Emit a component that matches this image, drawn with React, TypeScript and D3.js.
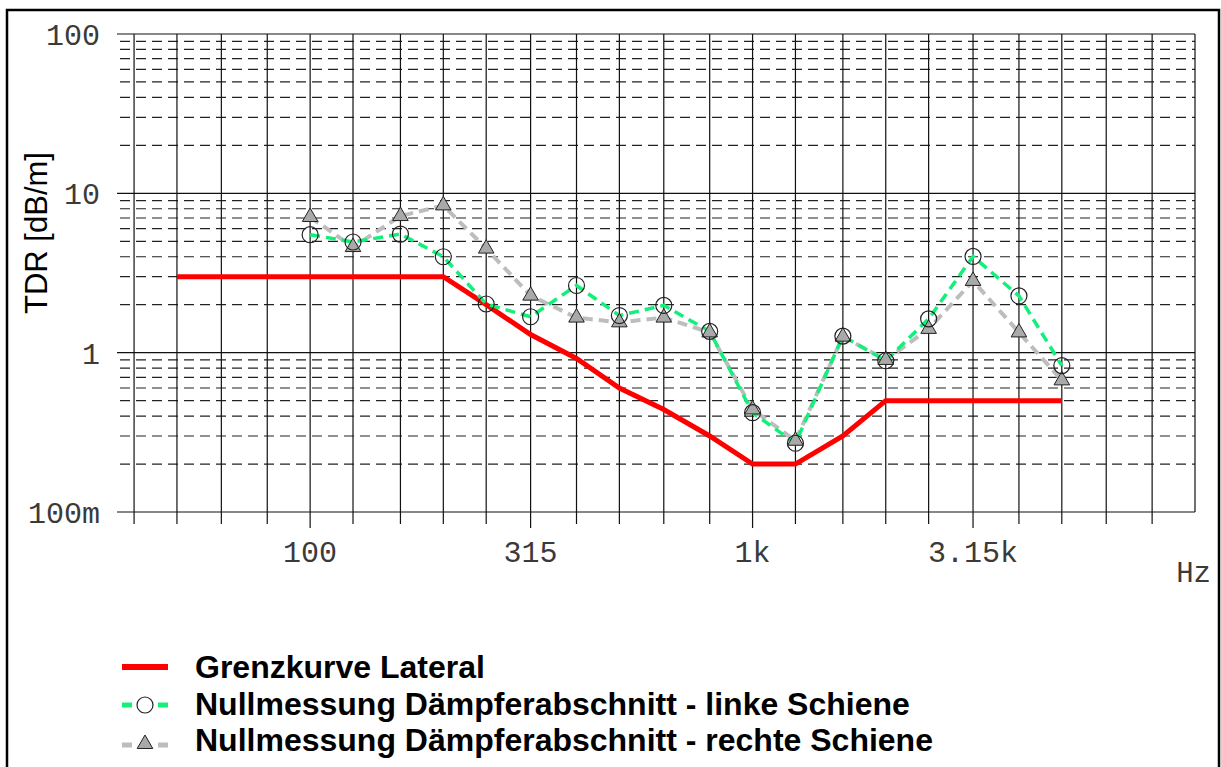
import React from 'react';
import * as d3 from 'd3';

// third-octave grid lines (Hz)
const gridFreqs = [40, 50, 63, 80, 100, 125, 160, 200, 250, 315, 400, 500, 630, 800,
    1000, 1250, 1600, 2000, 2500, 3150, 4000, 5000, 6300, 8000];
const xLabelFreqs = [100, 315, 1000, 3150];
const xLabelTexts = ['100', '315', '1k', '3.15k'];

const yMajor = [0.1, 1, 10, 100];
const yLabelTexts = ['100m', '1', '10', '100'];

// Grenzkurve Lateral
const limitFreqs = [50, 63, 80, 100, 125, 160, 200, 250, 315, 400, 500, 630, 800,
    1000, 1250, 1600, 2000, 2500, 3150, 4000, 5000];
const limitValues = [3, 3, 3, 3, 3, 3, 3, 2, 1.3, 0.92, 0.6, 0.44, 0.3,
    0.2, 0.2, 0.3, 0.5, 0.5, 0.5, 0.5, 0.5];

// Nullmessung
const measFreqs = [100, 125, 160, 200, 250, 315, 400, 500, 630, 800,
    1000, 1250, 1600, 2000, 2500, 3150, 4000, 5000];
const leftValues = [5.5, 4.95, 5.55, 4.0, 2.02, 1.68, 2.64, 1.71, 1.98, 1.36,
    0.42, 0.27, 1.27, 0.89, 1.63, 4.02, 2.27, 0.83];
const rightValues = [7.1, 4.6, 7.2, 8.4, 4.5, 2.28, 1.66, 1.55, 1.66, 1.34,
    0.44, 0.28, 1.26, 0.9, 1.41, 2.82, 1.34, 0.67];

const legendItems = [
    'Grenzkurve Lateral',
    'Nullmessung Dämpferabschnitt - linke Schiene',
    'Nullmessung Dämpferabschnitt - rechte Schiene'
];

const W = 1221;
const H = 767;
const plot = {left: 117, right: 1195, top: 34, bottom: 512};
const monoFont = '"Liberation Mono", "Courier New", monospace';
const sansFont = '"Liberation Sans", Arial, sans-serif';

export default function App() {
    const x = d3.scaleLog().domain([36.6, 10000]).range([plot.left, plot.right]);
    const y = d3.scaleLog().domain([0.1, 100]).range([plot.bottom, plot.top]);

    const minorY: number[] = [];
    for (let d = 0.1; d < 100; d *= 10) {
        for (let k = 2; k <= 9; k++) minorY.push(+(d * k).toPrecision(3));
    }

    const line = d3.line<[number, number]>().x(d => x(d[0])).y(d => y(d[1]));
    const limitPts = limitFreqs.map((f, i) => [f, limitValues[i]] as [number, number]);
    const leftPts = measFreqs.map((f, i) => [f, leftValues[i]] as [number, number]);
    const rightPts = measFreqs.map((f, i) => [f, rightValues[i]] as [number, number]);

    const tri = d3.symbol().type(d3.symbolTriangle).size(105)();

    const green = '#12f07a';
    const grey = '#bdbdbd';

    return (
        <div style={{position: 'absolute', left: 0, top: 0}}>
            <svg width={W} height={H} style={{display: 'block', background: '#fff'}}>
                <rect x={7} y={10} width={1212} height={800} fill="none" stroke="#000" strokeWidth={2.5}/>

                {/* horizontal grid */}
                {minorY.map(v => (
                    <line key={'m' + v} x1={plot.left + 3} x2={plot.right} y1={y(v)} y2={y(v)}
                          stroke="#222" strokeWidth={1.2} strokeDasharray="10,6"/>
                ))}
                {yMajor.map(v => (
                    <line key={'M' + v} x1={plot.left} x2={plot.right} y1={y(v)} y2={y(v)}
                          stroke="#111" strokeWidth={1.2}/>
                ))}

                {/* vertical grid + ticks */}
                {gridFreqs.map(f => (
                    <line key={'v' + f} x1={x(f)} x2={x(f)} y1={plot.top}
                          y2={plot.bottom + (xLabelFreqs.includes(f) ? 16 : 12)}
                          stroke="#111" strokeWidth={1.2}/>
                ))}
                <line x1={plot.right} x2={plot.right} y1={plot.top} y2={plot.bottom} stroke="#111" strokeWidth={1.2}/>

                {/* axis labels */}
                {yMajor.map((v, i) => (
                    <text key={'yl' + v} x={100} y={y(v) + 11} textAnchor="end"
                          fontFamily={monoFont} fontSize={30} fill="#3a3a3a">{yLabelTexts[i]}</text>
                ))}
                {xLabelFreqs.map((f, i) => (
                    <text key={'xl' + f} x={x(f)} y={562} textAnchor="middle"
                          fontFamily={monoFont} fontSize={30} fill="#3a3a3a">{xLabelTexts[i]}</text>
                ))}
                <text x={1211} y={582} textAnchor="end" fontFamily={monoFont} fontSize={29} fill="#3a3a3a">Hz</text>
                <text transform="translate(47,233) rotate(-90)" textAnchor="middle"
                      fontFamily={sansFont} fontSize={31} fill="#000">TDR [dB/m]</text>

                {/* series */}
                <path d={line(limitPts) ?? ''} fill="none" stroke="#ff0000" strokeWidth={5}/>
                <path d={line(rightPts) ?? ''} fill="none" stroke={grey} strokeWidth={4} strokeDasharray="10,6"/>
                <path d={line(leftPts) ?? ''} fill="none" stroke={green} strokeWidth={3.5} strokeDasharray="10,6"/>
                {rightPts.map(p => (
                    <path key={'t' + p[0]} d={tri ?? ''} transform={`translate(${x(p[0])},${y(p[1])})`}
                          fill="#a9a9a9" stroke="#222" strokeWidth={1}/>
                ))}
                {leftPts.map(p => (
                    <circle key={'c' + p[0]} cx={x(p[0])} cy={y(p[1])} r={8}
                            fill="none" stroke="#222" strokeWidth={1.2}/>
                ))}

                {/* legend */}
                <g fontFamily={sansFont} fontSize={32} fontWeight="bold" fill="#000">
                    <line x1={122} x2={168} y1={667} y2={667} stroke="#ff0000" strokeWidth={6}/>
                    <text x={195} y={678}>{legendItems[0]}</text>

                    <line x1={122} x2={132} y1={705} y2={705} stroke={green} strokeWidth={5}/>
                    <line x1={158} x2={168} y1={705} y2={705} stroke={green} strokeWidth={5}/>
                    <circle cx={145} cy={705} r={8} fill="none" stroke="#222" strokeWidth={1.2}/>
                    <text x={195} y={715}>{legendItems[1]}</text>

                    <line x1={122} x2={132} y1={745} y2={745} stroke={grey} strokeWidth={5}/>
                    <line x1={158} x2={168} y1={745} y2={745} stroke={grey} strokeWidth={5}/>
                    <path d={tri ?? ''} transform="translate(145,744)" fill="#a9a9a9" stroke="#222" strokeWidth={1}/>
                    <text x={195} y={751}>{legendItems[2]}</text>
                </g>
            </svg>
        </div>
    );
}
